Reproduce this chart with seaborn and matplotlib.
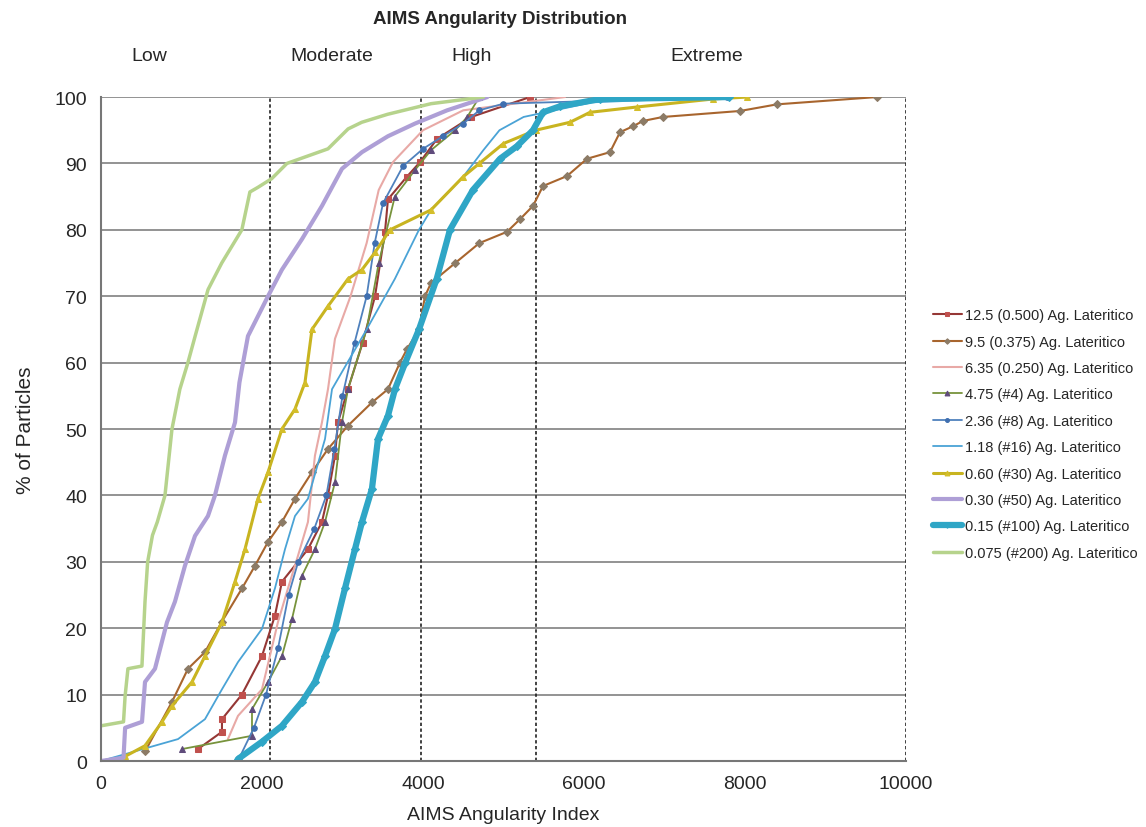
import numpy as np
import pandas as pd
import matplotlib
matplotlib.use("Agg")
import matplotlib.pyplot as plt
import seaborn as sns

sns.set_style("white")
plt.rcParams['font.family'] = ['Liberation Sans', 'DejaVu Sans']

# curves (AIMS index, % of particles)
x_125 = [1205, 1503, 1503, 1750, 2000, 2161, 2248, 2571, 2745, 2820, 2907, 2944, 3068, 3250, 3404, 3528, 3565, 3800, 3963, 4174, 4600, 5330]
y_125 = [1.8, 4.4, 6.3, 10, 15.8, 21.9, 27, 31.9, 36, 40, 46, 51, 56, 63, 70, 79.7, 84.6, 88, 90.2, 93.7, 97, 100]

x_95 = [550, 882, 1081, 1292, 1503, 1752, 1913, 2075, 2248, 2410, 2621, 2820, 3068, 3366, 3565, 3714, 3800, 3950, 4025, 4100, 4400, 4700, 5043, 5205, 5366, 5491, 5789, 6037, 6323, 6447, 6609, 6733, 6981, 7938, 8398, 9640]
y_95 = [1.5, 8.9, 13.9, 16.4, 21, 26, 29.4, 33, 36, 39.5, 43.5, 47, 50.5, 54, 56, 60, 62, 65, 70, 72, 75, 78, 79.7, 81.6, 83.6, 86.6, 88.1, 90.7, 91.7, 94.7, 95.6, 96.4, 97, 97.9, 98.9, 100]

x_635 = [1577, 1702, 2000, 2198, 2323, 2447, 2571, 2658, 2745, 2820, 2907, 3100, 3300, 3450, 3627, 4000, 4500, 5764]
y_635 = [3.3, 6.8, 10.8, 20.9, 26, 30.9, 36, 46, 51, 56, 63.6, 70, 78, 86, 90.2, 95, 98, 100]

x_475 = [1006, 1876, 1876, 2075, 2248, 2373, 2497, 2658, 2783, 2907, 2994, 3068, 3300, 3450, 3650, 3900, 4100, 4400, 4550, 4700]
y_475 = [1.8, 3.8, 7.8, 11.9, 15.8, 21.4, 27.9, 31.9, 36, 42, 51, 56, 65, 75, 85, 89, 92, 95, 97, 100]

x_236 = [1700, 1900, 2050, 2200, 2330, 2450, 2650, 2800, 2900, 3000, 3150, 3300, 3400, 3503, 3752, 4000, 4248, 4500, 4700, 5000, 7776]
y_236 = [0, 5, 10, 17, 25, 30, 35, 40, 47, 55, 63, 70, 78, 84, 89.6, 92.2, 94.1, 96, 98, 99, 100]

x_118 = [0, 957, 1292, 1503, 1702, 2000, 2161, 2286, 2410, 2571, 2783, 2870, 3300, 3650, 3950, 4100, 4500, 4750, 4950, 5250, 6100, 7700]
y_118 = [0, 3.3, 6.3, 10.8, 14.9, 19.9, 26, 31.9, 36.9, 39.5, 48.5, 56, 65, 72.6, 80, 83, 88, 92, 95, 97, 99.2, 100]

x_060 = [300, 547, 758, 882, 1130, 1292, 1503, 1665, 1789, 1950, 2075, 2248, 2410, 2534, 2621, 2820, 3068, 3242, 3404, 3590, 4100, 4500, 4700, 5000, 5400, 5826, 6075, 6658, 7600, 8025]
y_060 = [0.7, 2.3, 5.9, 8.3, 11.9, 15.8, 20.9, 27, 31.9, 39.5, 43.5, 50, 53, 57, 65, 68.5, 72.6, 74, 76.6, 80, 83, 88, 90, 93, 95, 96.2, 97.7, 98.5, 99.7, 100]

x_030 = [0, 280, 300, 510, 547, 671, 820, 919, 1043, 1168, 1329, 1416, 1540, 1665, 1720, 1826, 2075, 2248, 2497, 2745, 2994, 3242, 3565, 3900, 4300, 4800]
y_030 = [0, 0.5, 5, 5.9, 11.9, 13.9, 20.9, 24, 29.4, 33.9, 36.9, 40, 46, 51, 57, 64, 70, 74, 78.6, 83.6, 89.2, 91.7, 94.1, 96, 98, 100]

x_015 = [1702, 2000, 2248, 2497, 2658, 2783, 2907, 3031, 3155, 3242, 3366, 3441, 3565, 3652, 3780, 3950, 4170, 4335, 4620, 4957, 5168, 5366, 5491, 5700, 6200, 7800]
y_015 = [0.3, 2.9, 5.3, 8.9, 11.9, 15.8, 19.9, 26, 31.9, 36, 41, 48.5, 52, 56, 60, 65, 72.6, 80, 86, 90.7, 92.6, 95, 97.7, 98.6, 99.7, 100]

x_0075 = [0, 280, 300, 335, 509, 547, 580, 640, 700, 795, 882, 980, 1080, 1170, 1330, 1500, 1750, 1850, 1950, 2120, 2310, 2820, 3070, 3240, 3560, 4100, 4750]
y_0075 = [5.3, 5.9, 9.8, 13.9, 14.3, 24, 30, 34, 36, 40, 50, 56, 60, 64, 71, 75, 80, 85.7, 86.4, 87.7, 90, 92.2, 95.2, 96.2, 97.4, 99, 100]

labels = ["12.5 (0.500) Ag. Lateritico", "9.5 (0.375) Ag. Lateritico", "6.35 (0.250) Ag. Lateritico",
          "4.75 (#4) Ag. Lateritico", "2.36 (#8) Ag. Lateritico", "1.18 (#16) Ag. Lateritico",
          "0.60 (#30) Ag. Lateritico", "0.30 (#50) Ag. Lateritico", "0.15 (#100) Ag. Lateritico",
          "0.075 (#200) Ag. Lateritico"]
zone_names = ["Low", "Moderate", "High", "Extreme"]
zone_pos = [600, 2870, 4600, 7530]
zone_limits = [2100, 3975, 5400, 10000]

series = [(x_125, y_125), (x_95, y_95), (x_635, y_635), (x_475, y_475), (x_236, y_236),
          (x_118, y_118), (x_060, y_060), (x_030, y_030), (x_015, y_015), (x_0075, y_0075)]

# style per series: color, marker, marker color, line width, marker size
styles = [
    ("#953735", "s", "#C0504D", 1.5, 5),
    ("#A8652E", "D", "#8C7B66", 1.5, 4),
    ("#E8A9A6", None, None, 1.5, 0),
    ("#77933C", "^", "#5F4B7B", 1.3, 5),
    ("#4F81BD", "o", "#3F6FB0", 1.3, 4),
    ("#4AA3D6", None, None, 1.3, 0),
    ("#C8B420", "^", "#D4BE2A", 2.2, 5),
    ("#AE9FD6", None, None, 3.0, 0),
    ("#2FA6C6", "D", "#2FA6C6", 4.5, 4),
    ("#B6D38C", None, None, 2.5, 0),
]

fig = plt.figure(figsize=(11.46, 8.28), dpi=100)
ax = fig.add_axes([0.0881, 0.0797, 0.7025, 0.8019])

for (xs, ys), lab, (c, m, mc, lw, ms) in zip(series, labels, styles):
    sns.lineplot(x=xs, y=ys, ax=ax, estimator=None, sort=False, color=c, lw=lw,
                 marker=m, markersize=ms, markerfacecolor=mc, markeredgecolor=mc,
                 label=lab)

ax.set_xlim(0, 10000)
ax.set_ylim(0, 100)
ax.set_xticks(range(0, 10001, 2000))
ax.set_yticks(range(0, 101, 10))
ax.tick_params(labelsize=14, length=0, pad=10)
ax.yaxis.grid(True, color="#8a8a8a", lw=1.3)
ax.set_axisbelow(True)
for xl in zone_limits:
    ax.axvline(xl, color="#222222", ls=(0, (2, 1.5)), lw=1.2, zorder=1)
for s in ["top", "right"]:
    ax.spines[s].set_visible(False)
ax.spines["left"].set_color("#777777")
ax.spines["bottom"].set_color("#777777")
ax.spines["left"].set_linewidth(1.5)
ax.spines["bottom"].set_linewidth(1.5)

for name, xp in zip(zone_names, zone_pos):
    ax.text(xp, 106.3, name, ha="center", va="center", fontsize=14, clip_on=False)

ax.set_xlabel("AIMS Angularity Index", fontsize=14, labelpad=10)
ax.set_ylabel("% of Particles", fontsize=15, labelpad=14)
fig.text(0.436, 0.977, "AIMS Angularity Distribution", ha="center", va="center",
         fontsize=13.5, fontweight="bold")

ax.legend(loc="center left", bbox_to_anchor=(0.814, 0.4746), bbox_transform=fig.transFigure,
          frameon=False, fontsize=10.5, handlelength=2.0, labelspacing=0.85, handletextpad=0.2,
          markerscale=0.7, borderpad=0, borderaxespad=0)

fig.savefig("out.png", dpi=100)
